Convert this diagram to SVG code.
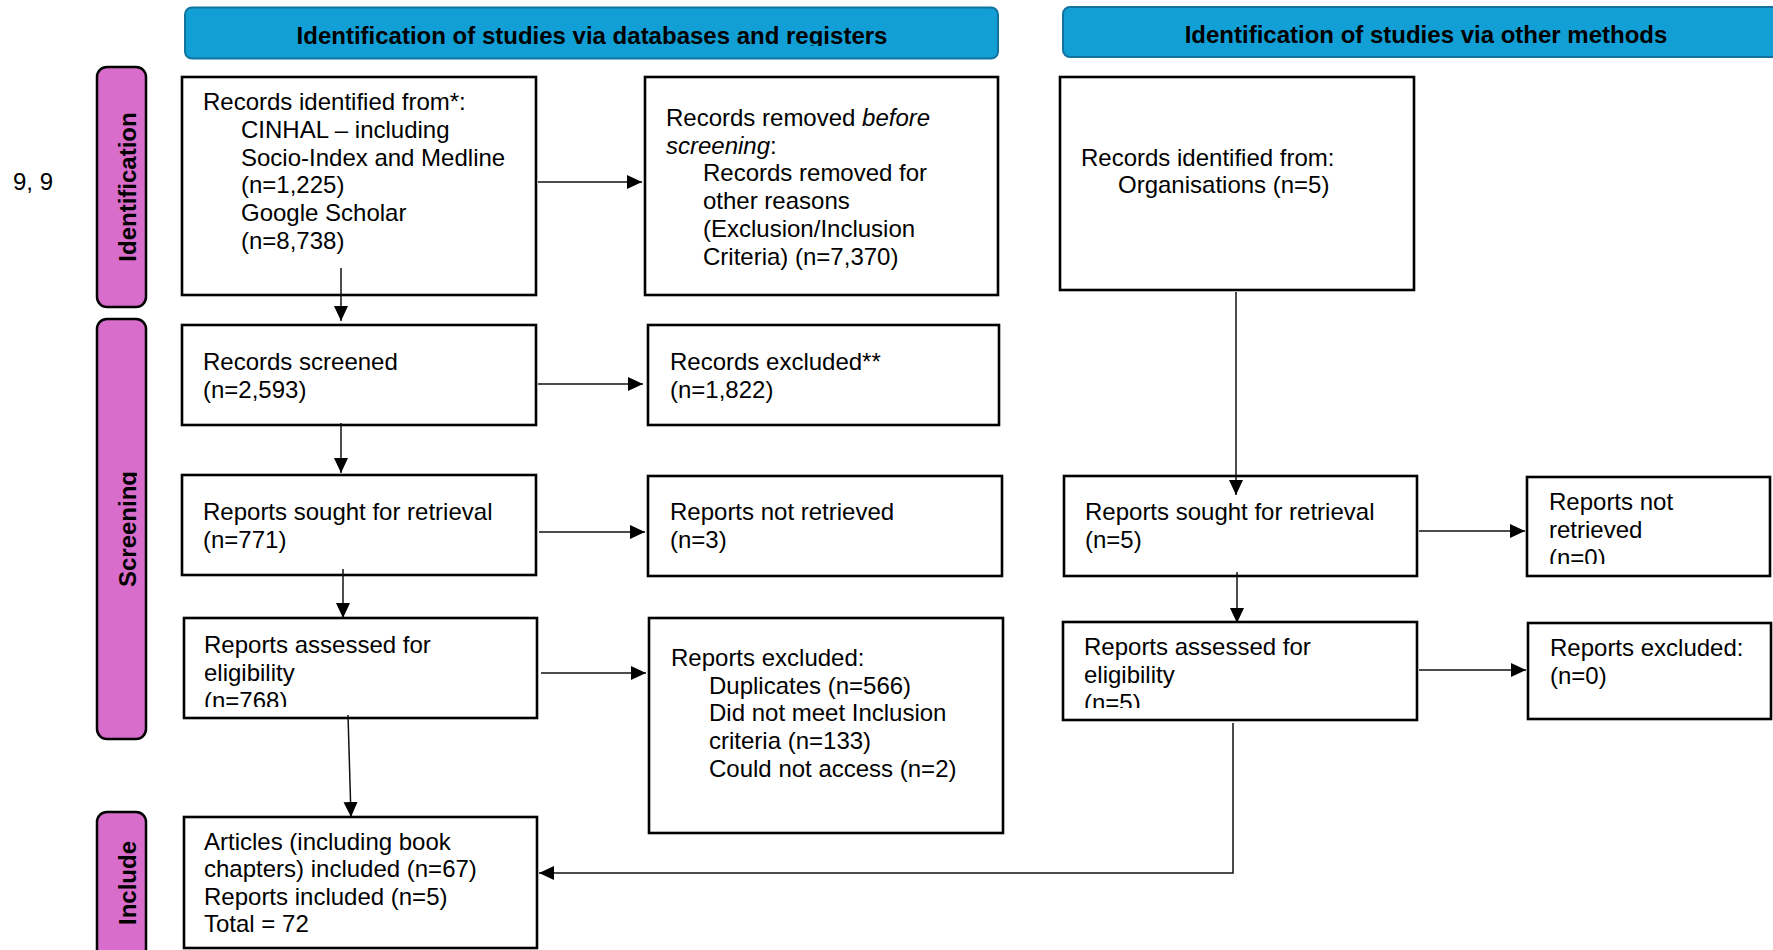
<svg xmlns="http://www.w3.org/2000/svg" width="1773" height="950" viewBox="0 0 1773 950">
<style>
.box{fill:#fff;stroke:#000;stroke-width:2.6}
.bar{fill:#D86DCB;stroke:#000;stroke-width:2.5}
.ban{fill:#129FD6;stroke:#13739F;stroke-width:2}
.t{font-family:"Liberation Sans",Arial,sans-serif;font-size:24px;fill:#000}
.b{font-family:"Liberation Sans",Arial,sans-serif;font-size:24px;font-weight:bold;fill:#000}
.c{fill:none;stroke:#111;stroke-width:1.5}
</style>
<defs>
<marker id="ah" markerUnits="userSpaceOnUse" markerWidth="16" markerHeight="16" refX="15" refY="7" orient="auto">
<path d="M0,0 L15,7 L0,14 z" fill="#000"/>
</marker>
<clipPath id="clipB1"><rect x="185" y="0" width="813" height="46"/></clipPath>
<clipPath id="clipScr"><rect x="90" y="300" width="47" height="450"/></clipPath>
<clipPath id="clip10"><rect x="184" y="618" width="353" height="89"/></clipPath>
<clipPath id="clip9"><rect x="1527" y="477" width="243" height="87"/></clipPath>
<clipPath id="clip12"><rect x="1063" y="622" width="354" height="86"/></clipPath>
</defs>
<rect width="1773" height="950" fill="#fff"/>

<text class="t" x="13" y="190">9, 9</text>

<g id="banner1">
<rect class="ban" x="185" y="7.5" width="813" height="51" rx="7"/>
<text class="b" x="592" y="44" text-anchor="middle" clip-path="url(#clipB1)">Identification of studies via databases and registers</text>
</g>
<g id="banner2">
<rect class="ban" x="1063" y="7" width="730" height="50" rx="7"/>
<text class="b" x="1426" y="43" text-anchor="middle">Identification of studies via other methods</text>
</g>

<g id="bar-identification">
<rect class="bar" x="97" y="67" width="49" height="240" rx="10"/>
<text class="b" transform="translate(135.5,187) rotate(-90)" text-anchor="middle">Identification</text>
</g>
<g id="bar-screening">
<rect class="bar" x="97" y="319" width="49" height="420" rx="10"/>
<g clip-path="url(#clipScr)"><text class="b" transform="translate(135.5,529) rotate(-90)" text-anchor="middle">Screening</text></g>
</g>
<g id="bar-include">
<rect class="bar" x="97" y="812" width="49" height="150" rx="10"/>
<text class="b" transform="translate(135.5,883) rotate(-90)" text-anchor="middle">Include</text>
</g>

<g id="n-records-identified">
<rect class="box" x="182" y="77" width="354" height="218"/>
<text class="t"><tspan x="203" y="110">Records identified from*:</tspan><tspan x="241" y="138">CINHAL – including</tspan><tspan x="241" y="166">Socio-Index and Medline</tspan><tspan x="241" y="193">(n=1,225)</tspan><tspan x="241" y="221">Google Scholar</tspan><tspan x="241" y="249">(n=8,738)</tspan></text>
</g>
<g id="n-records-removed">
<rect class="box" x="645" y="77" width="353" height="218"/>
<text class="t"><tspan x="666" y="126">Records removed <tspan font-style="italic">before</tspan></tspan><tspan x="666" y="154"><tspan font-style="italic">screening</tspan>:</tspan><tspan x="703" y="181">Records removed for</tspan><tspan x="703" y="209">other reasons</tspan><tspan x="703" y="237">(Exclusion/Inclusion</tspan><tspan x="703" y="265">Criteria) (n=7,370)</tspan></text>
</g>
<g id="n-org">
<rect class="box" x="1060" y="77" width="354" height="213"/>
<text class="t"><tspan x="1081" y="166">Records identified from:</tspan><tspan x="1118" y="193">Organisations (n=5)</tspan></text>
</g>
<g id="n-screened">
<rect class="box" x="182" y="325" width="354" height="100"/>
<text class="t"><tspan x="203" y="370">Records screened</tspan><tspan x="203" y="398">(n=2,593)</tspan></text>
</g>
<g id="n-records-excluded">
<rect class="box" x="648" y="325" width="351" height="100"/>
<text class="t"><tspan x="670" y="370">Records excluded**</tspan><tspan x="670" y="398">(n=1,822)</tspan></text>
</g>
<g id="n-sought">
<rect class="box" x="182" y="475" width="354" height="100"/>
<text class="t"><tspan x="203" y="520">Reports sought for retrieval</tspan><tspan x="203" y="548">(n=771)</tspan></text>
</g>
<g id="n-not-retrieved">
<rect class="box" x="648" y="476" width="354" height="100"/>
<text class="t"><tspan x="670" y="520">Reports not retrieved</tspan><tspan x="670" y="548">(n=3)</tspan></text>
</g>
<g id="n-sought-other">
<rect class="box" x="1064" y="476" width="353" height="100"/>
<text class="t"><tspan x="1085" y="520">Reports sought for retrieval</tspan><tspan x="1085" y="548">(n=5)</tspan></text>
</g>
<g id="n-not-retrieved-other">
<rect class="box" x="1527" y="477" width="243" height="99"/>
<text class="t" clip-path="url(#clip9)"><tspan x="1549" y="510">Reports not</tspan><tspan x="1549" y="538">retrieved</tspan><tspan x="1549" y="566">(n=0)</tspan></text>
</g>
<g id="n-assessed">
<rect class="box" x="184" y="618" width="353" height="100"/>
<text class="t" clip-path="url(#clip10)"><tspan x="204" y="653">Reports assessed for</tspan><tspan x="204" y="681">eligibility</tspan><tspan x="204" y="709">(n=768)</tspan></text>
</g>
<g id="n-reports-excluded">
<rect class="box" x="649" y="618" width="354" height="215"/>
<text class="t"><tspan x="671" y="666">Reports excluded:</tspan><tspan x="709" y="694">Duplicates (n=566)</tspan><tspan x="709" y="721">Did not meet Inclusion</tspan><tspan x="709" y="749">criteria (n=133)</tspan><tspan x="709" y="777">Could not access (n=2)</tspan></text>
</g>
<g id="n-assessed-other">
<rect class="box" x="1063" y="622" width="354" height="98"/>
<text class="t" clip-path="url(#clip12)"><tspan x="1084" y="655">Reports assessed for</tspan><tspan x="1084" y="683">eligibility</tspan><tspan x="1084" y="711">(n=5)</tspan></text>
</g>
<g id="n-excluded-other">
<rect class="box" x="1528" y="623" width="243" height="96"/>
<text class="t"><tspan x="1550" y="656">Reports excluded:</tspan><tspan x="1550" y="684">(n=0)</tspan></text>
</g>
<g id="n-included">
<rect class="box" x="184" y="817" width="353" height="131"/>
<text class="t"><tspan x="204" y="850">Articles (including book</tspan><tspan x="204" y="877">chapters) included (n=67)</tspan><tspan x="204" y="905">Reports included (n=5)</tspan><tspan x="204" y="932">Total = 72</tspan></text>
</g>

<g id="connectors">
<line class="c" x1="341" y1="268" x2="341" y2="321" marker-end="url(#ah)"/>
<line class="c" x1="538" y1="182" x2="642" y2="182" marker-end="url(#ah)"/>
<line class="c" x1="538" y1="384" x2="643" y2="384" marker-end="url(#ah)"/>
<line class="c" x1="341" y1="423" x2="341" y2="473" marker-end="url(#ah)"/>
<line class="c" x1="539" y1="532" x2="645" y2="532" marker-end="url(#ah)"/>
<line class="c" x1="343" y1="569" x2="343" y2="618" marker-end="url(#ah)"/>
<line class="c" x1="541" y1="673" x2="646" y2="673" marker-end="url(#ah)"/>
<line class="c" x1="348" y1="715" x2="351" y2="817" marker-end="url(#ah)"/>
<line class="c" x1="1236" y1="292" x2="1236" y2="495" marker-end="url(#ah)"/>
<line class="c" x1="1419" y1="531" x2="1525" y2="531" marker-end="url(#ah)"/>
<line class="c" x1="1237" y1="572" x2="1237" y2="623" marker-end="url(#ah)"/>
<line class="c" x1="1419" y1="670" x2="1526" y2="670" marker-end="url(#ah)"/>
<polyline class="c" points="1233,723 1233,873 539,873" marker-end="url(#ah)"/>
</g>
</svg>
